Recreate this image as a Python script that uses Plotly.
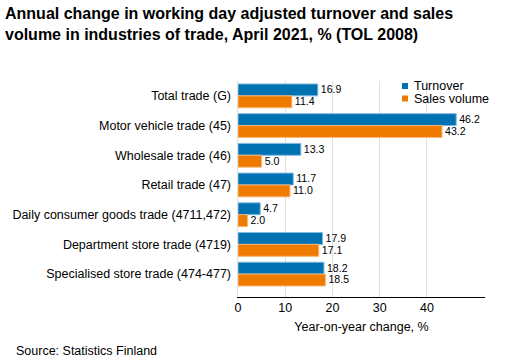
import plotly.graph_objects as go

categories = ["Total trade (G)", "Motor vehicle trade (45)", "Wholesale trade (46)",
              "Retail trade (47)", "Daily consumer goods trade (4711,472)",
              "Department store trade (4719)", "Specialised store trade (474-477)"]
turnover = [16.9, 46.2, 13.3, 11.7, 4.7, 17.9, 18.2]
sales_volume = [11.4, 43.2, 5.0, 11.0, 2.0, 17.1, 18.5]
x_ticks = [0, 10, 20, 30, 40]
series_names = ["Turnover", "Sales volume"]

BLUE = "#0072B2"
ORANGE = "#EE7A00"
FONT = "Liberation Sans, Arial, sans-serif"
W, H = 506, 362
L, T = 238, 81
PW = 247
PH = 297 - 81
R = W - L - PW
B = H - T - PH


def px_x(p):
    return (p - L) / PW


def px_y(p):
    return 1 - (p - T) / PH


fig = go.Figure()
for name, vals, col, edge in [(series_names[0], turnover, BLUE, "#7fb8de"),
                              (series_names[1], sales_volume, ORANGE, "#f6b673")]:
    fig.add_trace(go.Bar(
        y=categories, x=vals, name=name, orientation="h",
        marker=dict(color=col, line=dict(color=edge, width=1)),
        text=[f"{v:.1f}" for v in vals], textposition="outside",
        textfont=dict(size=12.5, color="#000", family=FONT), cliponaxis=False,
        showlegend=False,
    ))

fig.update_layout(
    width=W, height=H,
    margin=dict(l=L, r=R, t=T, b=B, autoexpand=False),
    paper_bgcolor="white", plot_bgcolor="white",
    barmode="group", bargap=0.2, bargroupgap=0,
    font=dict(family=FONT, size=12.5, color="#000"),
    showlegend=False,
)
fig.update_xaxes(
    range=[0, 52.3], tickvals=x_ticks, ticktext=[str(t) for t in x_ticks],
    showgrid=True, gridcolor="#e0e0e0", gridwidth=1,
    zeroline=False, showline=True, linecolor="#000", linewidth=1,
    ticks="", tickfont=dict(size=12.5, family=FONT), automargin=False,
    ticklabelstandoff=-1,
    title=dict(text="Year-on-year change, %", font=dict(size=12.5, family=FONT), standoff=8),
)
fig.update_yaxes(
    categoryorder="array", categoryarray=categories,
    range=[6.77, -0.5], showgrid=False, zeroline=False,
    showline=True, linecolor="#e0e0e0", ticks="", automargin=False,
    tickfont=dict(size=12.5, family=FONT), ticksuffix=" ",
)

# title
fig.add_annotation(
    text="<b>Annual change in working day adjusted turnover and sales<br>volume in industries of trade, April 2021, % (TOL 2008)</b>",
    xref="paper", yref="paper", x=px_x(3), y=px_y(3), xanchor="left", yanchor="top",
    align="left", showarrow=False, font=dict(size=16, family=FONT, color="#000"),
)
# legend
for i, (name, col) in enumerate(zip(series_names, [BLUE, ORANGE])):
    cy = 86 + 12.5 * i
    fig.add_shape(type="rect", xref="paper", yref="paper",
                  x0=px_x(402), x1=px_x(408), y0=px_y(cy - 3), y1=px_y(cy + 3),
                  fillcolor=col, line=dict(width=0))
    fig.add_annotation(text=name, xref="paper", yref="paper", x=px_x(412), y=px_y(cy),
                       xanchor="left", yanchor="middle", showarrow=False,
                       font=dict(size=12.5, family=FONT, color="#000"))
# source
fig.add_annotation(
    text="Source: Statistics Finland", xref="paper", yref="paper",
    x=px_x(14), y=px_y(351), xanchor="left", yanchor="middle",
    showarrow=False, font=dict(size=12.5, family=FONT, color="#000"),
)
fig.write_html("out.html", config={"displayModeBar": False},
               post_script="document.body.style.margin='0';document.body.style.padding='0';")
